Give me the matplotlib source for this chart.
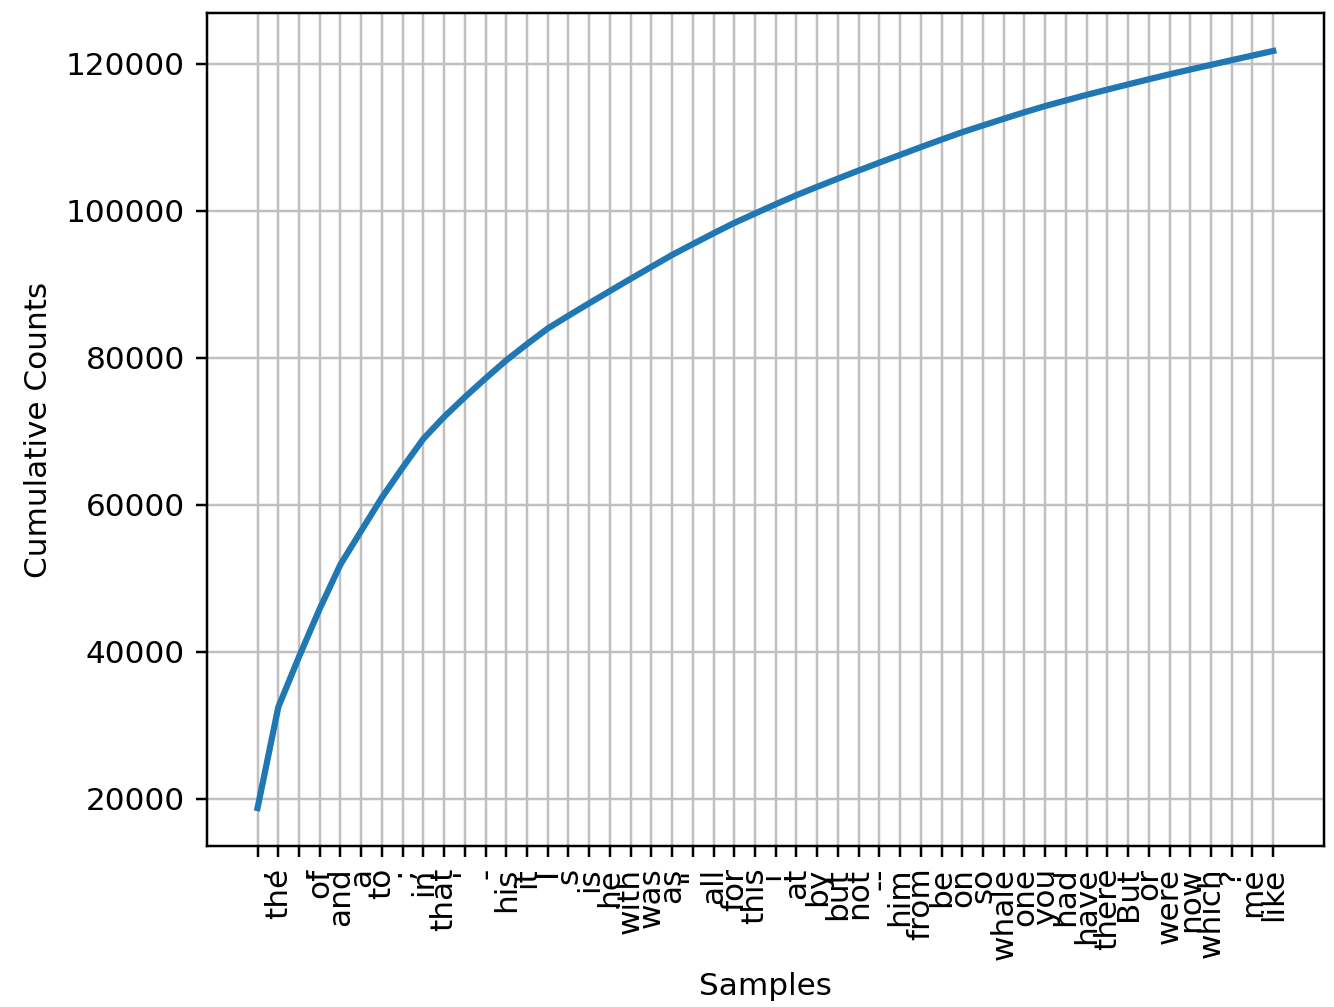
import matplotlib
matplotlib.use("Agg")
import matplotlib.pyplot as plt

# Top 50 samples of the frequency distribution and their cumulative counts
samples = [",", "the", ".", "of", "and", "a", "to", ";", "in", "that",
           "'", "-", "his", "it", "I", "s", "is", "he", "with", "was",
           "as", '"', "all", "for", "this", "!", "at", "by", "but", "not",
           "--", "him", "from", "be", "on", "so", "whale", "one", "you", "had",
           "have", "there", "But", "or", "were", "now", "which", "?", "me", "like"]
cumulative = [18713, 32434, 39296, 45832, 51856, 56425, 60967, 65039, 68955, 71937,
              74621, 77173, 79632, 81841, 83965, 85704, 87399, 89060, 90719, 92351,
              93971, 95449, 96911, 98325, 99605, 100874, 102105, 103242, 104355, 105458,
              106528, 107586, 108638, 109668, 110673, 111591, 112497, 113386, 114227, 114994,
              115754, 116469, 117174, 117871, 118551, 119197, 119837, 120474, 121101, 121725]

fig = plt.figure(figsize=(1334 / 224, 1007 / 224), dpi=224)
ax = fig.add_axes([0.155, 0.160, 0.8375, 0.827])

ax.grid(True, color="silver")
ax.plot(cumulative, linewidth=2)
ax.set_xticks(range(len(samples)))
ax.set_xticklabels(samples, rotation=90)
ax.set_xlabel("Samples")
ax.set_ylabel("Cumulative Counts")

fig.savefig("out.png", dpi=224)
